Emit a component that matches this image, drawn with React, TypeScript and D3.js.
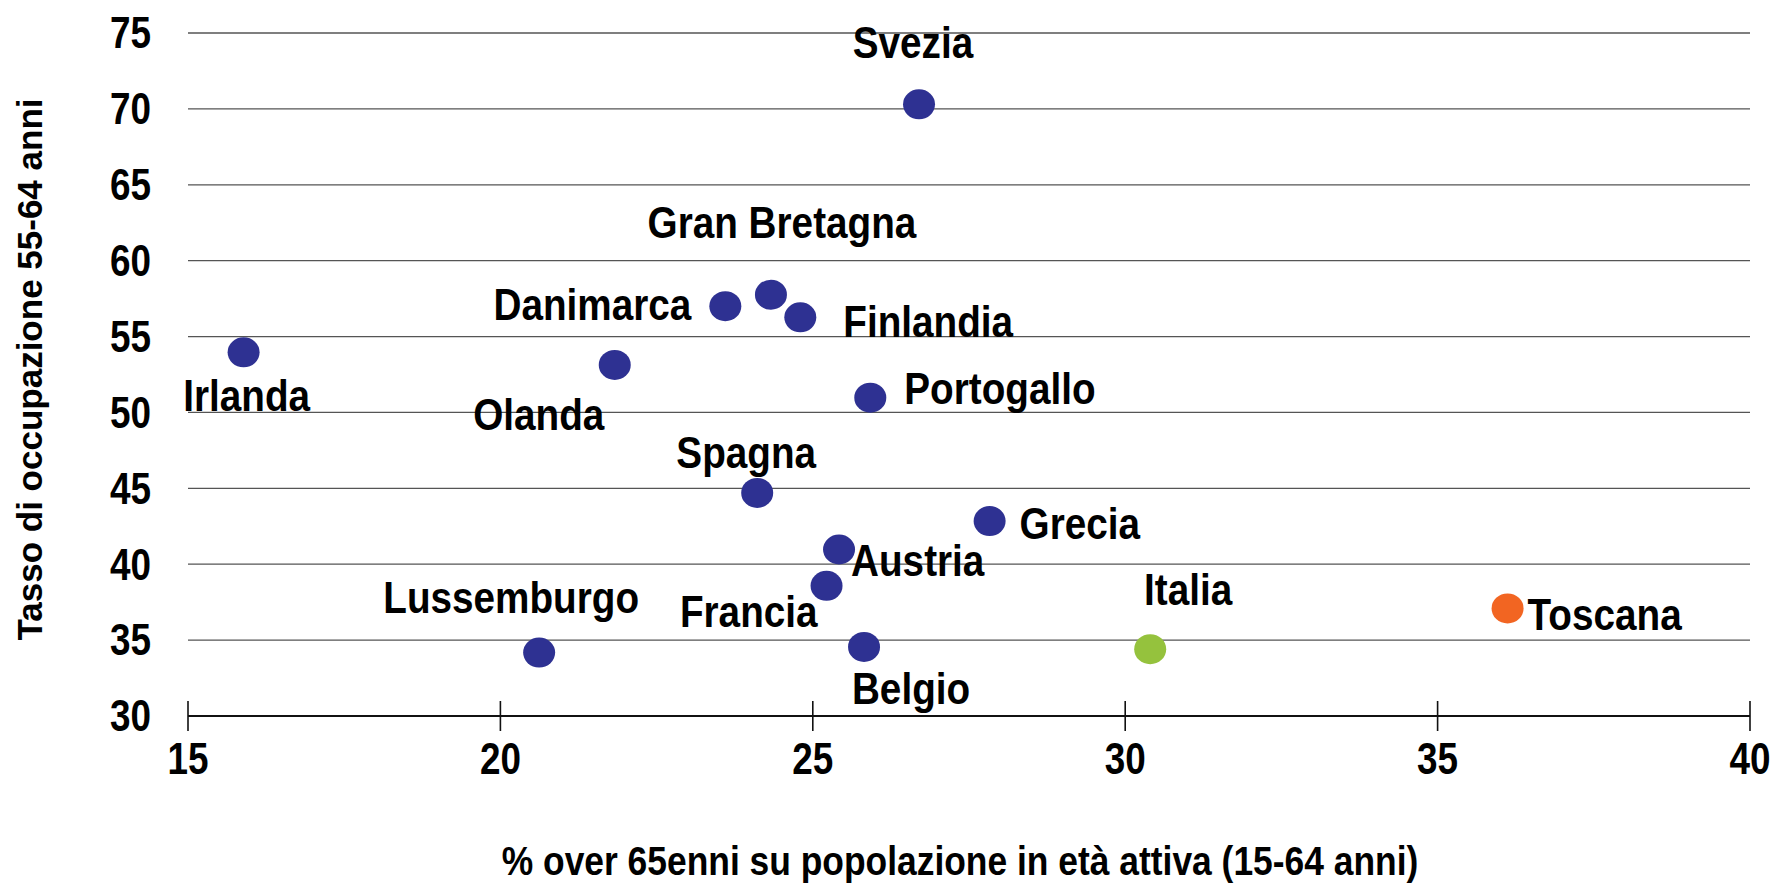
import * as d3 from "d3";
import { useEffect, useRef } from "react";

// chart data
const countries = ["Svezia", "Gran Bretagna", "Danimarca", "Finlandia", "Irlanda", "Olanda", "Portogallo", "Spagna", "Grecia", "Austria", "Francia", "Lussemburgo", "Belgio", "Italia", "Toscana"];
const over65 = [26.7, 24.33, 23.6, 24.8, 15.89, 21.83, 25.92, 24.11, 27.83, 25.42, 25.22, 20.62, 25.82, 30.4, 36.12];
const employment = [70.3, 57.76, 57.0, 56.27, 53.96, 53.13, 50.97, 44.7, 42.84, 40.97, 38.58, 34.18, 34.55, 34.4, 37.09];
const groups = ["paese", "paese", "paese", "paese", "paese", "paese", "paese", "paese", "paese", "paese", "paese", "paese", "paese", "italia", "toscana"];
const xTicks = [15, 20, 25, 30, 35, 40];
const yTicks = [30, 35, 40, 45, 50, 55, 60, 65, 70, 75];
const xTitle = "% over 65enni su popolazione in età attiva (15-64 anni)";
const yTitle = "Tasso di occupazione 55-64 anni";

// label placement relative to each marker: [dx, dy, anchor]
const labelOffsets: [number, number, string][] = [
	[-6, -62, "middle"],
	[11, -72, "middle"],
	[-34, -2, "end"],
	[43, 4, "start"],
	[3, 43, "middle"],
	[-76, 50, "middle"],
	[34, -9, "start"],
	[-11, -40, "middle"],
	[30, 2, "start"],
	[12, 11, "start"],
	[-9, 26, "end"],
	[-28, -55, "middle"],
	[47, 42, "middle"],
	[38, -60, "middle"],
	[20, 6, "start"],
];

const colors = { paese: "#2E3192", italia: "#95C23D", toscana: "#F26522" };

const FONT = "'Liberation Sans', Arial, sans-serif";

// no narrow face installed, so squeeze the bold sans horizontally
function condensed(sel, x, y, sx) {
	return sel.append("g").attr("transform", `translate(${x},${y}) scale(${sx},1)`).append("text")
		.attr("font-family", FONT).attr("font-weight", "bold");
}

function ScatterChart() {
	const ref = useRef<SVGSVGElement>(null);

	useEffect(() => {
		const svg = d3.select(ref.current);
		svg.selectAll("*").remove();

		const width = 1776;
		const height = 883;
		const left = 188;
		const right = 1750;
		const top = 33;
		const bottom = 716;

		svg.attr("width", width).attr("height", height);

		const x = d3.scaleLinear().domain([15, 40]).range([left, right]);
		const y = d3.scaleLinear().domain([30, 75]).range([bottom, top]);

		// gridlines
		svg.append("g").selectAll("line").data(yTicks.filter(d => d > 30)).join("line")
			.attr("x1", left).attr("x2", right)
			.attr("y1", d => y(d)).attr("y2", d => y(d))
			.attr("stroke", "#555").attr("stroke-width", 1.3);

		// x axis line with crossing ticks
		svg.append("line").attr("x1", left).attr("x2", right).attr("y1", y(30)).attr("y2", y(30))
			.attr("stroke", "#111").attr("stroke-width", 2.2);
		svg.append("g").selectAll("line").data(xTicks).join("line")
			.attr("x1", d => x(d)).attr("x2", d => x(d))
			.attr("y1", y(30) - 15).attr("y2", y(30) + 15)
			.attr("stroke", "#111").attr("stroke-width", 1.6);

		// tick labels
		const tickG = svg.append("g");
		xTicks.forEach(d => {
			condensed(tickG, x(d), 759, 0.82)
				.attr("text-anchor", "middle").attr("dominant-baseline", "central")
				.attr("font-size", 45).text(d);
		});
		yTicks.forEach(d => {
			condensed(tickG, 151, y(d), 0.82)
				.attr("text-anchor", "end").attr("dominant-baseline", "central")
				.attr("font-size", 45).text(d);
		});

		// axis titles
		condensed(svg, 960, 875, 0.885)
			.attr("text-anchor", "middle")
			.attr("font-size", 40)
			.text(xTitle);
		svg.append("text").attr("transform", `translate(29,${(top + bottom) / 2 - 5}) rotate(-90)`)
			.attr("text-anchor", "middle").attr("dominant-baseline", "central")
			.attr("font-family", FONT).attr("font-weight", "bold").attr("font-size", 35)
			.text(yTitle);

		const points = countries.map((c, i) => ({ name: c, xv: over65[i], yv: employment[i], group: groups[i], off: labelOffsets[i] }));

		// markers
		svg.append("g").selectAll("ellipse").data(points).join("ellipse")
			.attr("cx", d => x(d.xv)).attr("cy", d => y(d.yv))
			.attr("rx", 16).attr("ry", 15)
			.attr("fill", d => colors[d.group]);

		// labels
		const labelG = svg.append("g");
		points.forEach(d => {
			condensed(labelG, x(d.xv) + d.off[0], y(d.yv) + d.off[1], 0.86)
				.attr("text-anchor", d.off[2]).attr("dominant-baseline", "central")
				.attr("font-size", 45).text(d.name);
		});
	}, []);

	return <svg ref={ref} style={{ position: "absolute", left: 0, top: 0, background: "#fff" }}></svg>;
}

export default function App() {
	return <ScatterChart />;
}
